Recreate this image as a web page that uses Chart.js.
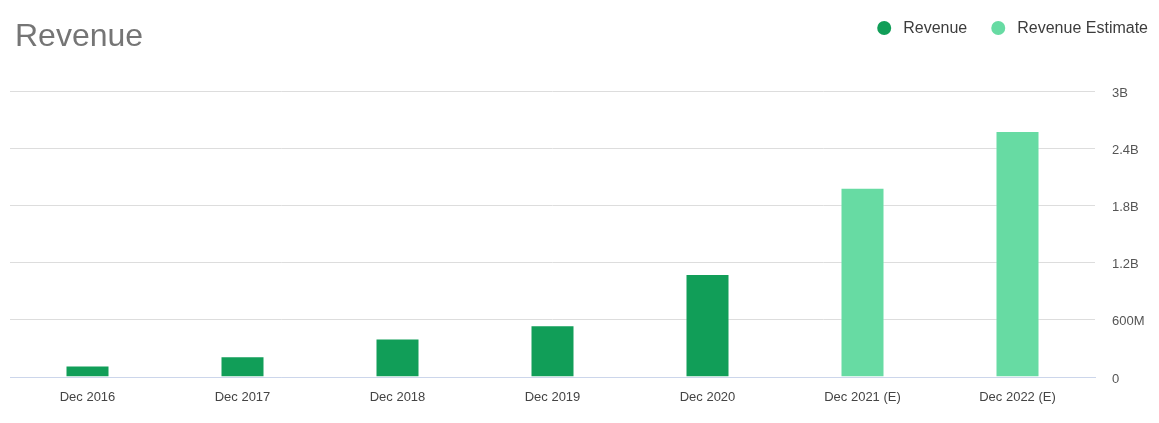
<!DOCTYPE html>
<html>
<head>
<meta charset="utf-8">
<script src="https://cdn.jsdelivr.net/npm/chart.js@4.4.1/dist/chart.umd.min.js"></script>
<style>
  html, body { margin: 0; padding: 0; background: #ffffff; overflow: hidden; }
  #wrap { position: relative; width: 1159px; height: 423px; }
</style>
</head>
<body>
<div id="wrap"><canvas id="c"></canvas></div>
<script>
// ---- data (values in millions) ----
const chartTitle = "Revenue";
const categories = ["Dec 2016", "Dec 2017", "Dec 2018", "Dec 2019", "Dec 2020", "Dec 2021 (E)", "Dec 2022 (E)"];
const revenueValues = [120, 218, 404, 544, 1080, null, null];
const estimateValues = [null, null, null, null, null, 1985, 2580];
const yTickValues = [0, 600, 1200, 1800, 2400, 3000];
const yTickLabels = ["0", "600M", "1.2B", "1.8B", "2.4B", "3B"];
const seriesNames = ["Revenue", "Revenue Estimate"];
const seriesColors = ["#119e58", "#67dba3"];

const FONT = "'Liberation Sans', Arial, Helvetica, sans-serif";

// custom header: title + legend drawn on canvas
const headerPlugin = {
  id: 'header',
  afterDraw(chart) {
    const ctx = chart.ctx;
    ctx.save();
    ctx.fillStyle = '#757575';
    ctx.font = '32px ' + FONT;
    ctx.textBaseline = 'alphabetic';
    ctx.textAlign = 'left';
    ctx.fillText(chartTitle, 15, 46);

    ctx.font = '16px ' + FONT;
    ctx.textBaseline = 'middle';
    const ds = chart.data.datasets;
    const r = 7, gapText = 19, gapItem = 24, endX = 1148, cy = 28;
    const widths = ds.map(d => ctx.measureText(d.label).width);
    let total = 0;
    ds.forEach((d, i) => { total += r + gapText + widths[i]; if (i > 0) total += gapItem; });
    let x = endX - total; // left edge of first circle
    ds.forEach((d, i) => {
      const cx = x + r;
      ctx.beginPath();
      ctx.fillStyle = d.backgroundColor;
      ctx.arc(cx, cy, r, 0, Math.PI * 2);
      ctx.fill();
      ctx.fillStyle = '#3d3d3d';
      ctx.fillText(d.label, cx + gapText, cy + 1);
      x = cx + gapText + widths[i] + gapItem;
    });
    ctx.restore();
  }
};

new Chart(document.getElementById('c'), {
  type: 'bar',
  data: {
    labels: categories,
    datasets: [
      {
        label: seriesNames[0],
        data: revenueValues,
        backgroundColor: seriesColors[0],
        borderColor: 'rgba(255,255,255,0.35)',
        borderWidth: 1,
        grouped: false,
        categoryPercentage: 1,
        barPercentage: 44 / 155
      },
      {
        label: seriesNames[1],
        data: estimateValues,
        backgroundColor: seriesColors[1],
        borderColor: 'rgba(255,255,255,0.35)',
        borderWidth: 1,
        grouped: false,
        categoryPercentage: 1,
        barPercentage: 44 / 155
      }
    ]
  },
  options: {
    responsive: true,
    maintainAspectRatio: false,
    animation: false,
    layout: { padding: { left: 10, top: 91, right: 0, bottom: 0 } },
    plugins: {
      legend: { display: false },
      title: { display: false },
      tooltip: { enabled: false }
    },
    scales: {
      x: {
        grid: { display: false, drawTicks: false },
        border: { display: true, color: '#ccd6eb', width: 1 },
        ticks: {
          color: '#444444',
          font: { family: FONT, size: 13 },
          padding: 13,
          maxRotation: 0,
          autoSkip: false
        },
        afterFit(scale) { scale.height = 46; }
      },
      y: {
        position: 'right',
        min: 0,
        max: 3000,
        afterBuildTicks(scale) { scale.ticks = yTickValues.map(v => ({ value: v })); },
        grid: {
          drawTicks: false,
          color: ctx => (ctx.tick && ctx.tick.value === 0) ? '#ccd6eb' : '#dddddd',
          lineWidth: 1
        },
        border: { display: false },
        ticks: {
          color: '#555555',
          font: { family: FONT, size: 13 },
          padding: 17,
          labelOffset: 2,
          crossAlign: 'near',
          callback: (value) => {
            const i = yTickValues.indexOf(value);
            return i >= 0 ? yTickLabels[i] : '';
          }
        },
        afterFit(scale) { scale.width = 64; }
      }
    }
  },
  plugins: [headerPlugin]
});
</script>
</body>
</html>
